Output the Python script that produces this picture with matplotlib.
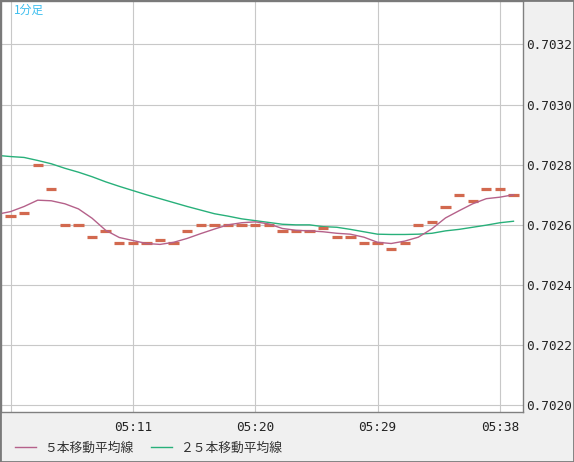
import matplotlib.pyplot as plt
from matplotlib.patches import Rectangle
import numpy as np

# 1-minute bars, minute offset from 05:02
bar_pos = np.arange(38)
close = [0.70263, 0.70264, 0.70280, 0.70272, 0.70260, 0.70260, 0.70256, 0.70258, 0.70254, 0.70254,
         0.70254, 0.70255, 0.70254, 0.70258, 0.70260, 0.70260, 0.70260, 0.70260, 0.70260, 0.70260,
         0.70258, 0.70258, 0.70258, 0.70259, 0.70256, 0.70256, 0.70254, 0.70254, 0.70252, 0.70254,
         0.70260, 0.70261, 0.70266, 0.70270, 0.70268, 0.70272, 0.70272, 0.70270]

# moving averages, one point before the first bar (05:01) up to the last bar
ma_pos = np.arange(-1, 38)
ma5 = [0.702635, 0.702644, 0.702661, 0.702682, 0.702680, 0.702670, 0.702653, 0.702622, 0.702582, 0.702558,
       0.702548, 0.702538, 0.702535, 0.702542, 0.702555, 0.702571, 0.702586, 0.702600, 0.702607, 0.702610,
       0.702603, 0.702588, 0.702582, 0.702580, 0.702577, 0.702572, 0.702569, 0.702559, 0.702542, 0.702538,
       0.702546, 0.702559, 0.702587, 0.702623, 0.702647, 0.702670, 0.702687, 0.702692, 0.702700]
ma25 = [0.702831, 0.702827, 0.702824, 0.702814, 0.702803, 0.702788, 0.702775, 0.702760, 0.702743, 0.702728,
        0.702714, 0.702700, 0.702687, 0.702674, 0.702661, 0.702649, 0.702637, 0.702629, 0.702620, 0.702614,
        0.702608, 0.702602, 0.702600, 0.702600, 0.702594, 0.702592, 0.702585, 0.702577, 0.702569, 0.702568,
        0.702568, 0.702569, 0.702572, 0.702580, 0.702585, 0.702592, 0.702599, 0.702607, 0.702612]

x_ticks = [0, 9, 18, 27, 36]
x_labels = ['', '05:11', '05:20', '05:29', '05:38']
y_ticks = [0.7020, 0.7022, 0.7024, 0.7026, 0.7028, 0.7030, 0.7032]
y_labels = ['0.7020', '0.7022', '0.7024', '0.7026', '0.7028', '0.7030', '0.7032']

W, H = 574, 462
fig = plt.figure(figsize=(W / 100, H / 100), dpi=100, facecolor='#f0f0f0')
ax = fig.add_axes([1 / W, 49.7 / H, 522 / W, 411 / H])
ax.set_facecolor('white')

ax.hlines(close, bar_pos - 0.38, bar_pos + 0.38, colors='#d2694f', lw=2.3, zorder=3)
l5, = ax.plot(ma_pos, ma5, color='#b5618a', lw=1.0, zorder=4)
l25, = ax.plot(ma_pos, ma25, color='#28b07a', lw=1.0, zorder=2)

ax.set_xlim(-0.699, 37.70)
ax.set_ylim(0.701977, 0.703343)

ax.set_xticks(x_ticks, x_labels)
ax.set_yticks(y_ticks, y_labels)
ax.yaxis.tick_right()
ax.tick_params(length=0, labelsize=9.2, labelcolor='#222222')
ax.tick_params(axis='x', pad=6.5)
ax.tick_params(axis='y', pad=2)
for lab in ax.get_xticklabels() + ax.get_yticklabels():
    lab.set_fontfamily('DejaVu Sans Mono')
ax.grid(True, color='#c8c8c8', lw=0.8, zorder=0)
for s in ax.spines.values():
    s.set_color('#808080')
    s.set_linewidth(1.0)

fig.text(14 / W, 1 - 10.5 / H, '1分足', color='#3fbfef', fontsize=8.5,
         family=['Noto Sans CJK JP', 'DejaVu Sans'], va='center', ha='left')

fig.legend([l5, l25], ['５本移動平均線', '２５本移動平均線'], loc='center left',
           bbox_to_anchor=(15 / W, 1 - 448 / H), ncol=2, frameon=False,
           borderpad=0, borderaxespad=0, handlelength=1.65, handletextpad=0.62,
           columnspacing=1.4, prop={'family': ['Noto Sans CJK JP', 'DejaVu Sans'], 'size': 9.2},
           labelcolor='#333333')

fig.add_artist(Rectangle((0, 0), 1, 1, transform=fig.transFigure, fill=False,
                         ec='#7a7a7a', lw=2.0))

fig.savefig('out.png', dpi=100, facecolor=fig.get_facecolor())
